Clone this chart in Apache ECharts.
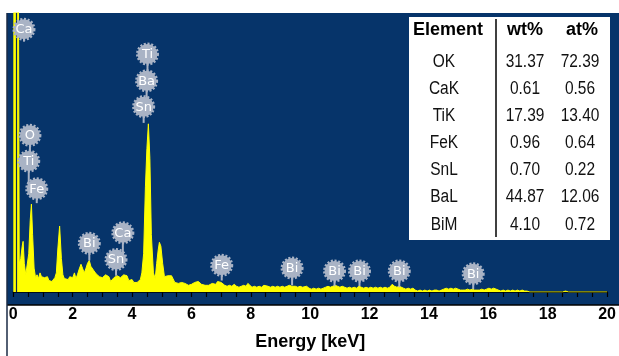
<!DOCTYPE html>
<html><head><meta charset="utf-8">
<script src="https://cdn.jsdelivr.net/npm/echarts@6/dist/echarts.min.js"></script>
<style>html,body{margin:0;padding:0;background:#fff}#c{width:619px;height:356px}</style>
</head><body><div id="c"></div>
<script>
// Spectrum: energy (keV) and counts (arbitrary units, full scale = 292)
const energies = [0.00,0.05,0.10,0.17,0.20,0.25,0.30,0.33,0.37,0.42,0.47,0.52,0.57,0.61,0.65,0.70,0.75,0.80,0.85,0.90,0.95,1.00,1.05,1.10,1.15,1.20,1.25,1.30,1.35,1.40,1.45,1.50,1.56,1.62,1.67,1.72,1.78,1.85,1.90,1.95,2.00,2.06,2.11,2.16,2.22,2.28,2.33,2.39,2.45,2.50,2.56,2.61,2.66,2.72,2.79,2.85,2.90,2.96,3.00,3.05,3.11,3.17,3.22,3.28,3.33,3.39,3.45,3.50,3.56,3.61,3.67,3.72,3.78,3.83,3.89,3.95,4.00,4.06,4.11,4.17,4.22,4.28,4.33,4.39,4.45,4.50,4.55,4.60,4.65,4.72,4.78,4.83,4.88,4.92,4.97,5.03,5.09,5.15,5.20,5.26,5.33,5.39,5.44,5.50,5.56,5.61,5.67,5.72,5.78,5.84,5.90,5.95,6.00,6.06,6.11,6.17,6.23,6.28,6.34,6.40,6.46,6.52,6.58,6.64,6.70,6.76,6.82,6.88,6.94,7.00,7.06,7.12,7.20,7.28,7.36,7.44,7.52,7.60,7.68,7.76,7.84,7.90,7.96,8.04,8.12,8.20,8.28,8.36,8.44,8.50,8.58,8.66,8.74,8.82,8.90,8.98,9.06,9.14,9.22,9.30,9.38,9.44,9.50,9.58,9.66,9.74,9.80,9.88,9.96,10.04,10.12,10.20,10.28,10.36,10.44,10.52,10.60,10.68,10.76,10.84,10.92,11.00,11.08,11.16,11.24,11.32,11.40,11.48,11.56,11.64,11.72,11.80,11.88,11.96,12.04,12.12,12.20,12.28,12.36,12.44,12.52,12.60,12.68,12.76,12.84,12.92,13.00,13.06,13.14,13.22,13.30,13.38,13.46,13.54,13.62,13.70,13.78,13.86,13.94,14.02,14.10,14.18,14.26,14.34,14.42,14.50,14.58,14.66,14.74,14.82,14.90,14.98,15.06,15.14,15.22,15.30,15.38,15.46,15.54,15.62,15.70,15.78,15.86,15.94,16.02,16.10,16.18,16.26,16.34,16.42,16.50,16.58,16.66,16.74,16.82,16.90,16.98,17.06,17.14,17.22,17.30,17.40,18.50,18.60,18.70,20.00];
const counts = [350,350,350,350,30,35,48,53,30,18,20,40,75,92,60,25,15,18,14,20,16,17,15,13,16,12,14,11,13,15,20,45,69,35,18,14,15,13,16,14,15,20,14,18,24,29,25,20,25,30,33,27,25,22,19,17,16,14,15,13,18,19,16,11,13,15,13,17,18,15,13,18,20,17,12,11,13,10,12,10,11,13,20,40,110,150,176,140,60,20,14,30,44,52,48,30,16,15,17,16,17,15,10,8,9,8,10,12,9,8,7,9,8,7,10,9,11,10,8,9,7,8,7,8,9,7,8,11,9,10,8,7,6,7,6,8,6,5,6,7,6,9,7,5,6,5,6,5,7,8,6,5,6,5,6,5,6,5,6,7,6,8,6,5,6,5,7,6,4,3,4,3,4,3,4,5,6,5,6,7,6,5,6,5,4,5,4,5,4,6,5,4,5,4,5,4,5,4,5,4,5,4,5,8,6,5,6,5,4,3,4,3,4,2,1,2,1,2,1,2,1,2,2,1,2,3,4,3,4,3,4,3,2,2,2,3,2,3,2,2,2,3,2,3,4,3,4,3,2,1,2,1,2,1,2,1,2,1,2,1,1,0,0,1,0,0];

// Element badges: label, energy (keV), badge centre, stem end (same units as counts)
const badgeLabels = ['Ca','O','Ti','Fe','Ti','Ba','Sn','Bi','Ca','Sn','Fe','Bi','Bi','Bi','Bi','Bi'];
const badgeEnergy = [0.36,0.56,0.52,0.79,4.52,4.49,4.39,2.56,3.69,3.46,7.02,9.39,10.82,11.66,13.00,15.49];
const badgeCentre = [275,164,137,108,249,221,194,51,62,34,28,25,22,22,22,19];
const badgeStemEnd = [262,137,108,93,221,194,177,33,34,17,12,7,6,6,5,3];

// Quantification table
const tableElements = ['OK','CaK','TiK','FeK','SnL','BaL','BiM'];
const tableWt = ['31.37','0.61','17.39','0.96','0.70','44.87','4.10'];
const tableAt = ['72.39','0.56','13.40','0.64','0.22','12.06','0.72'];

const xMin = 0, xMax = 20, xInterval = 2;

const chart = echarts.init(document.getElementById('c'), null, {renderer: 'canvas'});

const BLUE = '#06346a';
const BADGE = '#a9b3c5';

const tableChildren = [
  {type:'rect', shape:{x:0,y:0,width:201,height:223}, style:{fill:'#ffffff'}},
  {type:'line', shape:{x1:87,y1:2,x2:87,y2:220}, style:{stroke:'#000',lineWidth:1.5}},
  {type:'text', x:39, y:13, style:{text:'Element', font:'bold 18px "Liberation Sans", Arial, sans-serif', fill:'#000', align:'center', verticalAlign:'middle'}},
  {type:'text', x:116, y:13, style:{text:'wt%', font:'bold 18px "Liberation Sans", Arial, sans-serif', fill:'#000', align:'center', verticalAlign:'middle'}},
  {type:'text', x:173, y:13, style:{text:'at%', font:'bold 18px "Liberation Sans", Arial, sans-serif', fill:'#000', align:'center', verticalAlign:'middle'}}
];
const rowFont = '18px "Liberation Sans", Arial, sans-serif';
tableElements.forEach((el, i) => {
  const y = 45 + i * 27.1;
  tableChildren.push({type:'text', x:35, y:y, scaleX:0.86, style:{text:el, font:rowFont, fill:'#111', align:'center', verticalAlign:'middle'}});
  tableChildren.push({type:'text', x:116, y:y, scaleX:0.86, style:{text:tableWt[i], font:rowFont, fill:'#111', align:'center', verticalAlign:'middle'}});
  tableChildren.push({type:'text', x:171, y:y, scaleX:0.86, style:{text:tableAt[i], font:rowFont, fill:'#111', align:'center', verticalAlign:'middle'}});
});

const badgeData = badgeEnergy.map((e, i) => [e, badgeCentre[i], badgeStemEnd[i]]);

chart.setOption({
  animation: false,
  backgroundColor: '#ffffff',
  grid: {left: 13.3, right: 5.7, top: 13, bottom: 51, containLabel: false},
  graphic: [
    {type:'rect', z:-10, shape:{x:7, y:13, width:612, height:292}, style:{fill:BLUE}, silent:true},
    {type:'line', z:-9, shape:{x1:7, y1:305, x2:619, y2:305}, style:{stroke:'#000', lineWidth:1.5}},
    {type:'line', z:-9, shape:{x1:7, y1:13, x2:7, y2:356}, style:{stroke:'#1a2a44', lineWidth:1.5}},
    {type:'group', x:409, y:17, z:100, children: tableChildren}
  ],
  xAxis: {
    type: 'value', min: xMin, max: xMax, interval: xInterval,
    name: 'Energy [keV]', nameLocation: 'middle', nameGap: 41,
    nameTextStyle: {fontFamily: '"Liberation Sans", Arial, sans-serif', fontWeight: 'bold', fontSize: 18, color: '#000'},
    axisLine: {show: true, lineStyle: {color: '#000', width: 1.5}},
    axisTick: {show: true, inside: false, length: 5, lineStyle: {color: '#000', width: 1.2}},
    minorTick: {show: true, splitNumber: 4, length: 5, lineStyle: {color: '#000', width: 1.2}},
    axisLabel: {margin: 15, fontFamily: '"Liberation Sans", Arial, sans-serif', fontWeight: 'bold', fontSize: 16, color: '#000'},
    splitLine: {show: false}
  },
  yAxis: {type: 'value', min: 0, max: 292, show: false, splitLine: {show: false}},
  series: [
    {
      type: 'line', name: 'spectrum',
      data: energies.map((e, i) => [e, counts[i]]),
      symbol: 'none', clip: true,
      lineStyle: {color: '#ffff00', width: 1},
      areaStyle: {color: '#ffff00', opacity: 1},
      z: 2,
      markLine: {
        silent: true, symbol: ['none','none'], label: {show: false},
        lineStyle: {color: '#0b2a52', width: 1.2, type: 'solid'},
        data: [{xAxis: 0.1}]
      }
    },
    {
      type: 'custom', name: 'badges', z: 5, clip: false,
      data: badgeData,
      renderItem: function (params, api) {
        const c = api.coord([api.value(0), api.value(1)]);
        const s = api.coord([api.value(0), api.value(2)]);
        const label = badgeLabels[params.dataIndex];
        return {
          type: 'group',
          children: [
            {type:'line', shape:{x1:c[0], y1:c[1], x2:s[0], y2:s[1]}, style:{stroke:BADGE, lineWidth:2}},
            {type:'circle', shape:{cx:c[0], cy:c[1], r:10}, style:{fill:BADGE, stroke:BADGE, lineWidth:3, lineDash:[2,1.6]}},
            {type:'text', x:c[0], y:c[1]+0.5, style:{text:label, fill:'#ffffff', font:'13px "DejaVu Sans", Verdana, sans-serif', align:'center', verticalAlign:'middle'}}
          ]
        };
      }
    }
  ]
});
</script></body></html>
